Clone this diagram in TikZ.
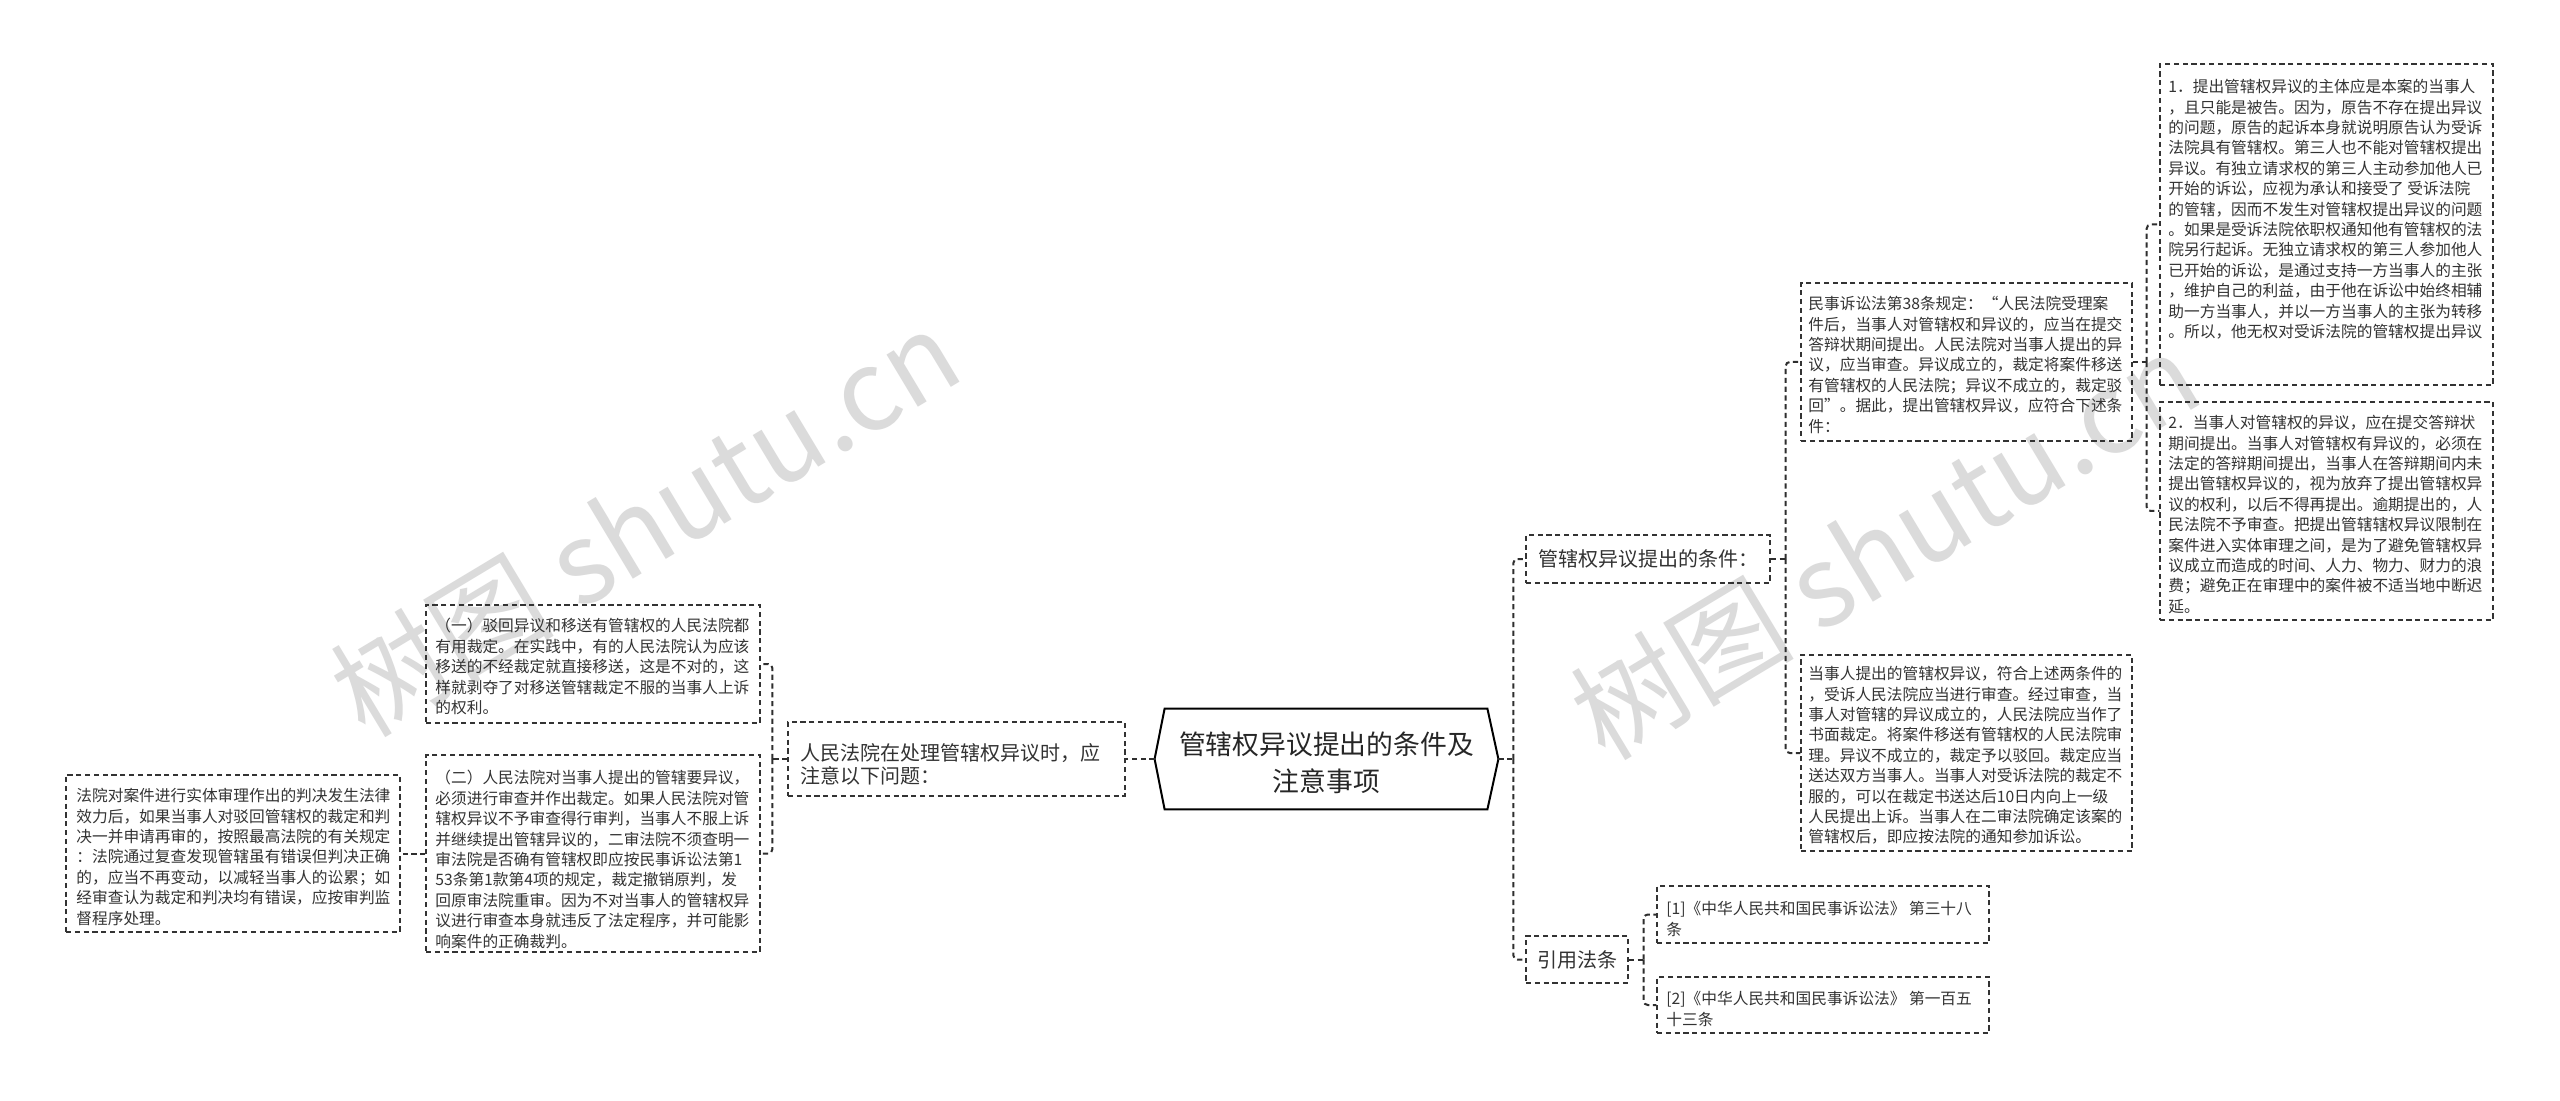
\documentclass[tikz,border=0pt]{standalone}
\usepackage{fontspec}
\setmainfont{Noto Sans CJK SC}
\usetikzlibrary{fit,calc}
\definecolor{ink}{HTML}{333333}
\begin{document}
\begin{tikzpicture}[x=0.5pt,y=-0.5pt,
  box/.style={draw=ink, line width=0.7pt, dash pattern=on 2.6pt off 1.8pt, inner sep=0pt},
  conn/.style={draw=ink!90!black, line width=1pt, dash pattern=on 2.6pt off 1.8pt, rounded corners=2pt},
  txt/.style={inner sep=0pt, align=left, text=ink, anchor=north west, font=\fontsize{7.85}{10.2}\selectfont},
  big/.style={inner sep=0pt, align=left, text=ink, font=\fontsize{10}{11.8}\selectfont},
  wm/.style={rotate=31, text=black!14, font=\fontsize{56}{56}\selectfont, inner sep=0pt}]
\useasboundingbox (0,0) rectangle (2560,1101);
\fill[white] (0,0) rectangle (2560,1101);
% watermarks
\node[wm] (wm1) at (645,522) {树图 shutu.cn};
\node[wm] (wm2) at (1885,545) {树图 shutu.cn};
% root
\node[inner sep=0pt, fit={(1155,709) (1498,809)}] (root) {};
\draw[line width=1pt, draw=black] (root.west) -- ([xshift=5pt]root.north west) -- ([xshift=-5.5pt]root.north east) -- (root.east) -- ([xshift=-5.5pt]root.south east) -- ([xshift=5pt]root.south west) -- cycle;
\node[inner sep=0pt, align=center, text=black!85, font=\fontsize{13.4}{18.5}\selectfont] (rootT) at ($(root.center)+(0,4)$) {管辖权异议提出的条件及\\注意事项};
% boxes
\node[box, fit={(1526,535) (1770,583)}] (cond) {};
\node[box, fit={(1526,936) (1628,983)}] (cite) {};
\node[box, fit={(1801,283) (2132,441)}] (min) {};
\node[box, fit={(1801,655) (2132,851)}] (dang) {};
\node[box, fit={(2160,64) (2493,385)}] (n1) {};
\node[box, fit={(2160,402) (2493,620)}] (n2) {};
\node[box, fit={(1657,886) (1989,943)}] (r1) {};
\node[box, fit={(1657,977) (1989,1033)}] (r2) {};
\node[box, fit={(788,722) (1125,796)}] (L) {};
\node[box, fit={(426,605) (760,723)}] (y1) {};
\node[box, fit={(426,755) (760,952)}] (y2) {};
\node[box, fit={(66,775) (400,932)}] (fy) {};
% texts
\node[big, anchor=west] (condT) at (1538,559) {管辖权异议提出的条件：};
\node[big, anchor=west] (citeT) at (1537,960) {引用法条};
\node[big, anchor=north west] (LT) at (800,743) {人民法院在处理管辖权异议时，应\\注意以下问题：};
\node[txt] (n1T) at (2168,79) {1．提出管辖权异议的主体应是本案的当事人\\，且只能是被告。因为，原告不存在提出异议\\的问题，原告的起诉本身就说明原告认为受诉\\法院具有管辖权。第三人也不能对管辖权提出\\异议。有独立请求权的第三人主动参加他人已\\开始的诉讼，应视为承认和接受了 受诉法院\\的管辖，因而不发生对管辖权提出异议的问题\\。如果是受诉法院依职权通知他有管辖权的法\\院另行起诉。无独立请求权的第三人参加他人\\已开始的诉讼，是通过支持一方当事人的主张\\，维护自己的利益，由于他在诉讼中始终相辅\\助一方当事人，并以一方当事人的主张为转移\\。所以，他无权对受诉法院的管辖权提出异议};
\node[txt] (n2T) at (2168,415) {2．当事人对管辖权的异议，应在提交答辩状\\期间提出。当事人对管辖权有异议的，必须在\\法定的答辩期间提出，当事人在答辩期间内未\\提出管辖权异议的，视为放弃了提出管辖权异\\议的权利，以后不得再提出。逾期提出的，人\\民法院不予审查。把提出管辖辖权异议限制在\\案件进入实体审理之间，是为了避免管辖权异\\议成立而造成的时间、人力、物力、财力的浪\\费；避免正在审理中的案件被不适当地中断迟\\延。};
\node[txt] (minT) at (1808,296) {民事诉讼法第38条规定：“人民法院受理案\\件后，当事人对管辖权和异议的，应当在提交\\答辩状期间提出。人民法院对当事人提出的异\\议，应当审查。异议成立的，裁定将案件移送\\有管辖权的人民法院；异议不成立的，裁定驳\\回”。据此，提出管辖权异议，应符合下述条\\件：};
\node[txt] (dangT) at (1808,666) {当事人提出的管辖权异议，符合上述两条件的\\，受诉人民法院应当进行审查。经过审查，当\\事人对管辖的异议成立的，人民法院应当作了\\书面裁定。将案件移送有管辖权的人民法院审\\理。异议不成立的，裁定予以驳回。裁定应当\\送达双方当事人。当事人对受诉法院的裁定不\\服的，可以在裁定书送达后10日内向上一级\\人民提出上诉。当事人在二审法院确定该案的\\管辖权后，即应按法院的通知参加诉讼。};
\node[txt] (r1T) at (1666,901) {[1]《中华人民共和国民事诉讼法》 第三十八\\条};
\node[txt] (r2T) at (1666,991) {[2]《中华人民共和国民事诉讼法》 第一百五\\十三条};
\node[txt] (y1T) at (435,618) {（一）驳回异议和移送有管辖权的人民法院都\\有用裁定。在实践中，有的人民法院认为应该\\移送的不经裁定就直接移送，这是不对的，这\\样就剥夺了对移送管辖裁定不服的当事人上诉\\的权利。};
\node[txt] (y2T) at (435,770) {（二）人民法院对当事人提出的管辖要异议，\\必须进行审查并作出裁定。如果人民法院对管\\辖权异议不予审查得行审判，当事人不服上诉\\并继续提出管辖异议的，二审法院不须查明一\\审法院是否确有管辖权即应按民事诉讼法第1\\53条第1款第4项的规定，裁定撤销原判，发\\回原审法院重审。因为不对当事人的管辖权异\\议进行审查本身就违反了法定程序，并可能影\\响案件的正确裁判。};
\node[txt] (fyT) at (76,788) {法院对案件进行实体审理作出的判决发生法律\\效力后，如果当事人对驳回管辖权的裁定和判\\决一并申请再审的，按照最高法院的有关规定\\：法院通过复查发现管辖虽有错误但判决正确\\的，应当不再变动，以减轻当事人的讼累；如\\经审查认为裁定和判决均有错误，应按审判监\\督程序处理。};
% connectors right
\coordinate (jR) at ($(root.east)+(15,0)$);
\draw[conn] (root.east) -- (jR);
\draw[conn] (jR) |- (cond.west);
\draw[conn] (jR) |- (cite.west);
\coordinate (jC) at ($(cond.east)+(15,0)$);
\draw[conn] (cond.east) -- (jC);
\draw[conn] (jC) |- (min.west);
\draw[conn] (jC) |- (dang.west);
\coordinate (jM) at ($(min.east)+(14,0)$);
\draw[conn] (min.east) -- (jM);
\draw[conn] (jM) |- (n1.west);
\draw[conn] (jM) |- (n2.west);
\coordinate (jCi) at ($(cite.east)+(15,0)$);
\draw[conn] (cite.east) -- (jCi);
\draw[conn] (jCi) |- (r1.west);
\draw[conn] (jCi) |- (r2.west);
% connectors left
\draw[conn] (root.west) -- (L.east);
\coordinate (jL) at ($(L.west)+(-15,0)$);
\draw[conn] (L.west) -- (jL);
\draw[conn] (jL) |- (y1.east);
\draw[conn] (jL) |- (y2.east);
\draw[conn] (y2.west) -- (fy.east);
\end{tikzpicture}
\end{document}
